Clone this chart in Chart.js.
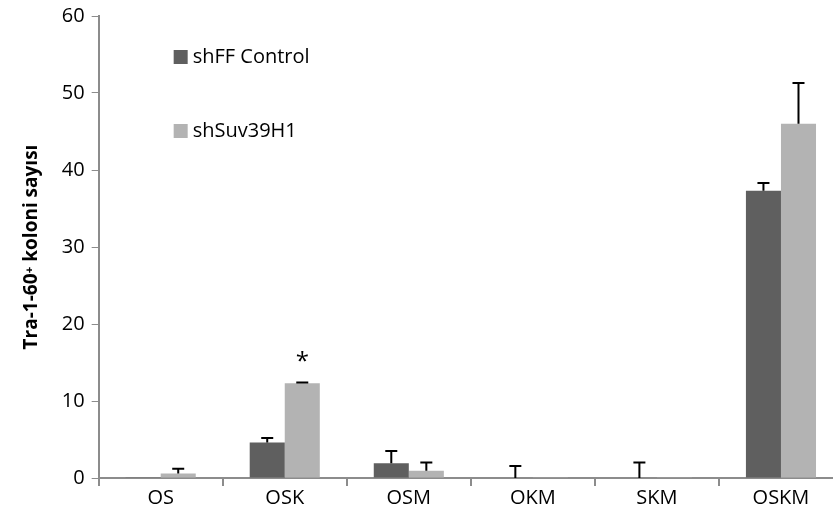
<!DOCTYPE html>
<html>
<head>
<meta charset="utf-8">
<script src="https://cdn.jsdelivr.net/npm/chart.js@4.4.1/dist/chart.umd.min.js"></script>
<style>
  html, body { margin: 0; padding: 0; background: #fff; overflow: hidden; }
  #wrap { width: 850px; height: 528px; }
  #chart { display: block; margin-top: -3px; }
</style>
</head>
<body>
<div id="wrap"><canvas id="chart" width="850" height="531"></canvas></div>
<script>
// Categories and series
const categories = ['OS', 'OSK', 'OSM', 'OKM', 'SKM', 'OSKM'];
const controlValues = [0.1, 4.6, 1.9, 0, 0, 37.3];
const controlErrors = [0, 0.6, 1.6, 1.55, 2.0, 1.0];
const suvValues = [0.6, 12.3, 0.95, 0.1, 0.1, 46.0];
const suvErrors = [0.6, 0.1, 1.05, 0, 0, 5.3];
const yTicks = [0, 10, 20, 30, 40, 50, 60];
const starMarks = [{ dataset: 1, index: 1, text: '*' }];

const FONT = "'Open Sans', sans-serif";

// Upward-only error bars + significance star, positioned through the scales
const errorBarPlugin = {
    id: 'errorBars',
    afterDatasetsDraw(chart) {
        const ctx = chart.ctx;
        const y = chart.scales.y;
        ctx.save();
        ctx.strokeStyle = '#000';
        ctx.lineWidth = 2;
        chart.data.datasets.forEach((ds, di) => {
            const meta = chart.getDatasetMeta(di);
            meta.data.forEach((bar, i) => {
                const err = ds.errors[i];
                if (!err) return;
                const top = y.getPixelForValue(ds.data[i] + err);
                ctx.beginPath();
                ctx.moveTo(bar.x, bar.y);
                ctx.lineTo(bar.x, top);
                ctx.moveTo(bar.x - 6, top);
                ctx.lineTo(bar.x + 6, top);
                ctx.stroke();
            });
        });
        ctx.fillStyle = '#000';
        ctx.font = '24px ' + FONT;
        ctx.textAlign = 'center';
        ctx.textBaseline = 'middle';
        starMarks.forEach(s => {
            const ds = chart.data.datasets[s.dataset];
            const bar = chart.getDatasetMeta(s.dataset).data[s.index];
            const top = y.getPixelForValue(ds.data[s.index] + ds.errors[s.index]);
            ctx.fillText(s.text, bar.x, top - 20);
        });
        ctx.restore();
    }
};

// Legend drawn inside the plot area, stacked vertically
const innerLegendPlugin = {
    id: 'innerLegend',
    afterDraw(chart) {
        const ctx = chart.ctx;
        const area = chart.chartArea;
        ctx.save();
        ctx.font = '20px ' + FONT;
        ctx.textBaseline = 'middle';
        ctx.textAlign = 'left';
        chart.data.datasets.forEach((ds, i) => {
            const cy = area.top + 41 + i * 74;
            const x = area.left + 75;
            ctx.fillStyle = ds.backgroundColor;
            ctx.fillRect(x, cy - 7, 14, 14);
            ctx.fillStyle = '#000';
            ctx.fillText(ds.label, x + 19, cy);
        });
        ctx.restore();
    }
};

new Chart(document.getElementById('chart'), {
    type: 'bar',
    data: {
        labels: categories,
        datasets: [
            {
                label: 'shFF Control',
                data: controlValues,
                errors: controlErrors,
                backgroundColor: '#5f5f5f',
                barPercentage: 1,
                categoryPercentage: 0.565
            },
            {
                label: 'shSuv39H1',
                data: suvValues,
                errors: suvErrors,
                backgroundColor: '#b3b3b3',
                barPercentage: 1,
                categoryPercentage: 0.565
            }
        ]
    },
    options: {
        responsive: false,
        animation: false,
        devicePixelRatio: 1,
        layout: { padding: { top: 0, right: 7, left: 20, bottom: 18 } },
        plugins: {
            legend: { display: false },
            tooltip: { enabled: false }
        },
        scales: {
            x: {
                offset: true,
                grid: {
                    offset: true,
                    drawOnChartArea: false,
                    drawTicks: true,
                    tickLength: 8,
                    color: '#8c8c8c',
                    lineWidth: 2
                },
                border: { color: '#8c8c8c', width: 2 },
                ticks: { color: '#000', font: { size: 20, family: FONT }, padding: 0 }
            },
            y: {
                min: 0,
                max: 60,
                afterBuildTicks: axis => { axis.ticks = yTicks.map(v => ({ value: v })); },
                grid: {
                    drawOnChartArea: false,
                    drawTicks: true,
                    tickLength: 7,
                    color: '#8c8c8c',
                    lineWidth: 1
                },
                border: { color: '#8c8c8c', width: 2 },
                ticks: { color: '#000', font: { size: 20, family: FONT }, padding: 7 },
                title: {
                    display: true,
                    text: 'Tra-1-60\u207A koloni sayısı',
                    color: '#000',
                    font: { size: 19, weight: 'bold', family: FONT },
                    padding: { top: 0, bottom: 12 }
                }
            }
        }
    },
    plugins: [errorBarPlugin, innerLegendPlugin]
});
</script>
</body>
</html>
